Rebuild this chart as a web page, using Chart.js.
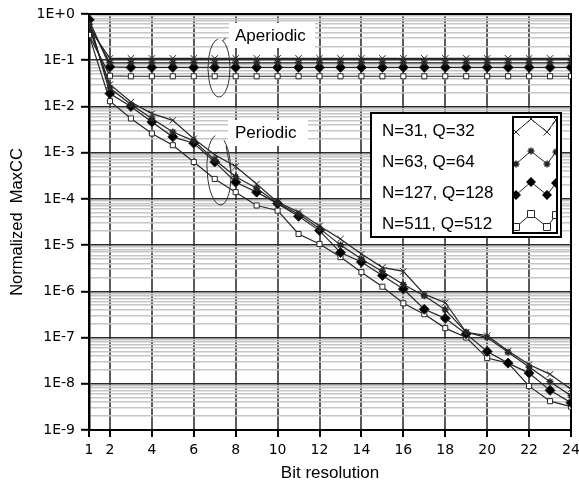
<!DOCTYPE html>
<html>
<head>
<meta charset="utf-8">
<script src="https://cdn.jsdelivr.net/npm/chart.js@4.4.1/dist/chart.umd.min.js"></script>
<style>
  html, body { margin: 0; padding: 0; background: #fff; }
</style>
</head>
<body>
<canvas id="chart" width="579" height="484"></canvas>
<script>
// Bit resolution (x axis)
const bits = [1, 2, 3, 4, 5, 6, 7, 8, 9, 10, 11, 12, 13, 14, 15, 16, 17, 18, 19, 20, 21, 22, 23, 24];
const xTicks = [1, 2, 4, 6, 8, 10, 12, 14, 16, 18, 20, 22, 24];
const yTickLabels = ['1E+0', '1E-1', '1E-2', '1E-3', '1E-4', '1E-5', '1E-6', '1E-7', '1E-8', '1E-9'];
const legendLabels = ['N=31, Q=32', 'N=63, Q=64', 'N=127, Q=128', 'N=511, Q=512'];

// Aperiodic sequences (flat after bit 2)
const aper31  = [0.5, 0.11, 0.11, 0.11, 0.11, 0.11, 0.11, 0.11, 0.11, 0.11, 0.11, 0.11, 0.11, 0.11, 0.11, 0.11, 0.11, 0.11, 0.11, 0.11, 0.11, 0.11, 0.11, 0.11];
const aper63  = [0.6, 0.088, 0.088, 0.088, 0.088, 0.088, 0.088, 0.088, 0.088, 0.088, 0.088, 0.088, 0.088, 0.088, 0.088, 0.088, 0.088, 0.088, 0.088, 0.088, 0.088, 0.088, 0.088, 0.088];
const aper127 = [0.75, 0.072, 0.07, 0.07, 0.07, 0.07, 0.07, 0.07, 0.07, 0.07, 0.07, 0.07, 0.07, 0.07, 0.07, 0.07, 0.07, 0.07, 0.07, 0.07, 0.07, 0.07, 0.07, 0.07];
const aper511 = [0.35, 0.046, 0.045, 0.045, 0.045, 0.045, 0.045, 0.045, 0.045, 0.045, 0.045, 0.045, 0.045, 0.045, 0.045, 0.045, 0.045, 0.045, 0.045, 0.045, 0.045, 0.045, 0.045, 0.045];

// Periodic sequences
const per31  = [0.5, 0.03, 0.0125, 0.007, 0.005, 0.002, 0.0009, 0.0005, 0.00021, 0.000085, 0.000052, 0.000026, 0.0000136, 6.4e-6, 3.3e-6, 2.7e-6, 8.7e-7, 5.7e-7, 1.3e-7, 1.1e-7, 5.1e-8, 2.6e-8, 1.6e-8, 7.6e-9];
const per63  = [0.6, 0.025, 0.011, 0.0055, 0.0028, 0.0018, 0.0007, 0.0003, 0.00017, 0.00008, 0.000047, 0.000023, 0.00001, 5e-6, 2.7e-6, 1.4e-6, 8e-7, 4e-7, 1.3e-7, 1e-7, 4.8e-8, 2.3e-8, 1.1e-8, 5.5e-9];
const per127 = [0.75, 0.019, 0.01, 0.0046, 0.0022, 0.0016, 0.00063, 0.00023, 0.00014, 0.000079, 0.000042, 0.0000206, 6.9e-6, 4.3e-6, 2.2e-6, 1.12e-6, 4.1e-7, 2.6e-7, 1.2e-7, 5e-8, 2.8e-8, 1.7e-8, 7.2e-9, 3.9e-9];
const per511 = [0.35, 0.013, 0.0055, 0.0026, 0.00145, 0.00063, 0.00027, 0.00014, 0.000072, 0.000056, 0.0000174, 0.0000106, 5.5e-6, 2.6e-6, 1.26e-6, 5.5e-7, 3.2e-7, 1.6e-7, 1e-7, 3.6e-8, 2.8e-8, 8.9e-9, 4.2e-9, 3.2e-9];

const lineColor = '#262626';
const styles = [
    { pointStyle: 'crossRot', pointRadius: 4.5, pointBorderWidth: 1, pointBackgroundColor: '#fff' },
    { pointStyle: 'star', pointRadius: 3.5, pointBorderWidth: 1.5, pointBackgroundColor: '#000' },
    { pointStyle: 'rectRot', pointRadius: 5, pointBorderWidth: 1, pointBackgroundColor: '#000' },
    { pointStyle: 'rect', pointRadius: 3.6, pointBorderWidth: 1, pointBackgroundColor: '#fff' }
];

function makeSet(label, values, style) {
    return Object.assign({
        label: label,
        data: bits.map((b, i) => ({ x: b, y: values[i] })),
        borderColor: lineColor,
        pointBorderColor: lineColor,
        borderWidth: 1.2,
        tension: 0
    }, style);
}

const datasets = [
    makeSet('Aperiodic ' + legendLabels[0], aper31, styles[0]),
    makeSet('Aperiodic ' + legendLabels[1], aper63, styles[1]),
    makeSet('Aperiodic ' + legendLabels[2], aper127, styles[2]),
    makeSet('Aperiodic ' + legendLabels[3], aper511, styles[3]),
    makeSet('Periodic ' + legendLabels[0], per31, styles[0]),
    makeSet('Periodic ' + legendLabels[1], per63, styles[1]),
    makeSet('Periodic ' + legendLabels[2], per127, styles[2]),
    makeSet('Periodic ' + legendLabels[3], per511, styles[3])
];

function decadeIndex(v) {
    const e = Math.log10(v);
    const r = Math.round(e);
    return Math.abs(e - r) < 1e-6 ? -r : -1;
}

// legend sample marker
function drawMark(ctx, kind, x, y) {
    ctx.save();
    ctx.strokeStyle = lineColor;
    ctx.fillStyle = '#000';
    ctx.lineWidth = 1;
    ctx.beginPath();
    if (kind === 0) {
        ctx.moveTo(x - 3.5, y - 3.5); ctx.lineTo(x + 3.5, y + 3.5);
        ctx.moveTo(x + 3.5, y - 3.5); ctx.lineTo(x - 3.5, y + 3.5);
        ctx.stroke();
    } else if (kind === 1) {
        ctx.lineWidth = 1.5;
        ctx.moveTo(x - 3.5, y); ctx.lineTo(x + 3.5, y);
        ctx.moveTo(x, y - 3.5); ctx.lineTo(x, y + 3.5);
        ctx.moveTo(x - 2.5, y - 2.5); ctx.lineTo(x + 2.5, y + 2.5);
        ctx.moveTo(x + 2.5, y - 2.5); ctx.lineTo(x - 2.5, y + 2.5);
        ctx.stroke();
    } else if (kind === 2) {
        ctx.moveTo(x, y - 5); ctx.lineTo(x + 5, y); ctx.lineTo(x, y + 5); ctx.lineTo(x - 5, y);
        ctx.closePath();
        ctx.fill();
    } else {
        ctx.fillStyle = '#fff';
        ctx.rect(x - 3.5, y - 3.5, 7, 7);
        ctx.fill();
        ctx.stroke();
    }
    ctx.restore();
}

const framePlugin = {
    id: 'frame',
    beforeDatasetsDraw(chart) {
        const { ctx, chartArea: a } = chart;
        ctx.save();
        ctx.strokeStyle = '#000';
        ctx.lineWidth = 2;
        ctx.strokeRect(a.left, a.top, a.right - a.left, a.bottom - a.top);
        ctx.restore();
    }
};

const notesPlugin = {
    id: 'notes',
    afterDraw(chart) {
        const ctx = chart.ctx;
        ctx.save();
        ctx.font = '17px "Liberation Sans", Arial, sans-serif';
        ctx.textBaseline = 'middle';
        ctx.textAlign = 'left';

        // Aperiodic / Periodic labels with white backing
        ctx.fillStyle = '#fff';
        ctx.fillRect(229, 23, 86, 25);
        ctx.fillRect(228, 120, 80, 26);
        ctx.fillStyle = '#000';
        ctx.fillText('Aperiodic', 235, 36);
        ctx.fillText('Periodic', 235, 133);

        ctx.strokeStyle = '#333';
        ctx.lineWidth = 1;
        ctx.beginPath();
        ctx.ellipse(219, 68, 11, 29, 0, -1.2, 4.6);
        ctx.stroke();
        ctx.beginPath();
        ctx.moveTo(222, 41); ctx.lineTo(226, 38);
        ctx.stroke();
        ctx.beginPath();
        ctx.ellipse(219, 170, 12, 35, -0.05, -1.0, 4.55);
        ctx.stroke();
        ctx.beginPath();
        ctx.moveTo(226, 146); ctx.lineTo(231, 172);
        ctx.stroke();

        // legend box
        const bx = 371, by = 113, bw = 190, bh = 124;
        ctx.fillStyle = '#fff';
        ctx.fillRect(bx, by, bw, bh);
        ctx.strokeStyle = '#000';
        ctx.lineWidth = 2;
        ctx.strokeRect(bx, by, bw, bh);
        const sx = 513, sy = 117, sw = 44, sh = 116;
        ctx.strokeRect(sx, sy, sw, sh);

        const rowsText = [131, 162, 193, 224];
        const rowsSample = [127, 159, 190, 222];
        const dx = [3, 18, 34, 43];
        const dy = [5, -8, 5, -7];
        ctx.fillStyle = '#000';
        legendLabels.forEach((t, i) => {
            ctx.fillText(t, 382, rowsText[i]);
        });
        ctx.save();
        ctx.beginPath();
        ctx.rect(sx + 1, sy + 1, sw - 2, sh - 2);
        ctx.clip();
        legendLabels.forEach((t, i) => {
            ctx.strokeStyle = lineColor;
            ctx.lineWidth = 1;
            ctx.beginPath();
            dx.forEach((d, k) => {
                const px = sx + d, py = rowsSample[i] + dy[k];
                if (k === 0) ctx.moveTo(px, py); else ctx.lineTo(px, py);
            });
            ctx.stroke();
            dx.forEach((d, k) => drawMark(ctx, i, sx + d, rowsSample[i] + dy[k]));
        });
        ctx.restore();
        ctx.restore();
    }
};

new Chart(document.getElementById('chart'), {
    type: 'line',
    data: { datasets: datasets },
    plugins: [framePlugin, notesPlugin],
    options: {
        responsive: false,
        animation: false,
        layout: { padding: { top: 14, right: 8, left: 0, bottom: 0 } },
        plugins: {
            legend: { display: false },
            tooltip: { enabled: false }
        },
        scales: {
            x: {
                type: 'linear',
                min: 1,
                max: 24,
                afterBuildTicks: (scale) => { scale.ticks = xTicks.map(v => ({ value: v })); },
                afterFit: (scale) => { scale.height = 54; scale.paddingLeft = 0; scale.paddingRight = 0; },
                ticks: {
                    autoSkip: false,
                    maxRotation: 0,
                    padding: 5,
                    color: '#000',
                    font: { family: '"DejaVu Sans", Verdana, sans-serif', size: 14 }
                },
                grid: {
                    color: (c) => (c.tick && c.tick.value === 1) ? 'rgba(0,0,0,0)' : '#5a5a5a',
                    lineWidth: 2,
                    tickColor: '#000',
                    tickWidth: 2,
                    tickLength: 7
                },
                border: { color: '#000', width: 2 },
                title: {
                    display: true,
                    text: 'Bit resolution',
                    color: '#000',
                    font: { family: '"Liberation Sans", Arial, sans-serif', size: 17 },
                    padding: { top: 0, bottom: 0 }
                }
            },
            y: {
                type: 'logarithmic',
                min: 1e-9,
                max: 1,
                afterBuildTicks: (scale) => {
                    const t = [];
                    for (let e = -9; e <= 0; e++) {
                        t.push({ value: Math.pow(10, e) });
                        if (e < 0) {
                            for (let k = 2; k <= 9; k++) {
                                t.push({ value: Number((k * Math.pow(10, e)).toPrecision(6)) });
                            }
                        }
                    }
                    scale.ticks = t;
                },
                afterFit: (scale) => { scale.width = 89; scale.paddingTop = 0; scale.paddingBottom = 0; },
                ticks: {
                    autoSkip: false,
                    padding: 6,
                    color: '#000',
                    font: { family: '"DejaVu Sans", Verdana, sans-serif', size: 14 },
                    callback: function(value) {
                        const i = decadeIndex(value);
                        return i >= 0 ? yTickLabels[i] : '';
                    }
                },
                grid: {
                    color: (c) => (c.tick && decadeIndex(c.tick.value) >= 0) ? '#2a2a2a' : '#c6c6c6',
                    lineWidth: (c) => (c.tick && decadeIndex(c.tick.value) >= 0) ? 1.6 : 1.6,
                    tickColor: (c) => (c.tick && decadeIndex(c.tick.value) >= 0) ? '#000' : 'rgba(0,0,0,0)',
                    tickWidth: 2,
                    tickLength: 8
                },
                border: { color: '#000', width: 2.5 },
                title: {
                    display: true,
                    text: 'Normalized  MaxCC',
                    color: '#000',
                    font: { family: '"Liberation Sans", Arial, sans-serif', size: 16.5 },
                    padding: { top: 8, bottom: 0 }
                }
            }
        }
    }
});
</script>
</body>
</html>
